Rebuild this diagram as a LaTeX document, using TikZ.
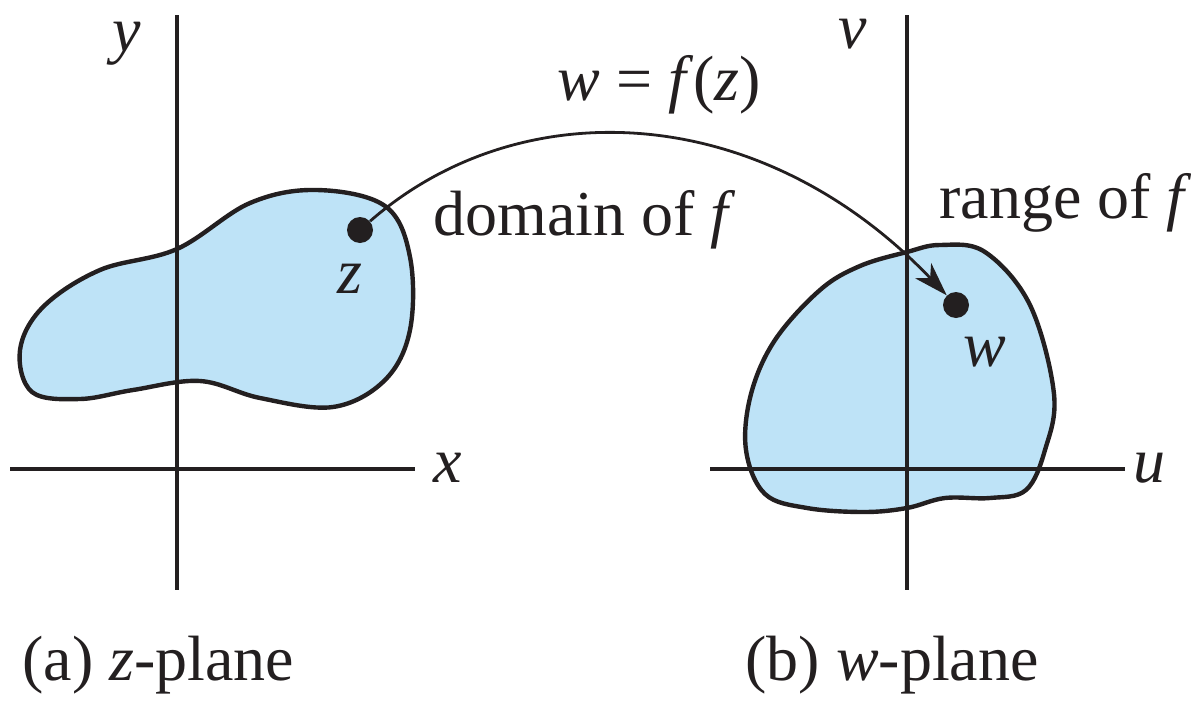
\documentclass[tikz,border=0pt]{standalone}
\usepackage{fontspec}
\setmainfont{Liberation Serif}
\definecolor{blobblue}{RGB}{190,227,247}
\definecolor{inkblack}{RGB}{35,31,32}
\usetikzlibrary{arrows.meta}

\begin{document}
\begin{tikzpicture}[
  x=0.5pt, y=-0.5pt,
  every node/.style={font=\fontsize{32}{38}\selectfont, inner sep=0pt, text=inkblack},
  axis/.style={draw=inkblack, line width=1.6pt},
  region/.style={draw=inkblack, fill=blobblue, line width=2.2pt},
  spot/.style={circle, fill=inkblack, minimum size=13pt},
  map/.style={draw=inkblack, line width=1.4pt, -{Stealth[length=17pt, width=11pt, inset=5pt]}},
]
  \useasboundingbox (0,0) rectangle (1191,702);

  % Regions
  \draw[region] plot[smooth cycle, tension=0.6] coordinates {
    (177,249) (250,203) (317,190) (385,206) (410,257) (410,330) (385,380)
    (333,407) (260,398) (200,381) (133,390) (80,399) (32,392) (20,350)
    (43,307) (100,270)};
  \draw[region] plot[smooth cycle, tension=0.6] coordinates {
    (907,252) (940,245) (985,252) (1030,305) (1054,394) (1045,450) (1026,490)
    (990,498) (945,498) (907,508) (864,512) (807,508) (765,494) (746,450)
    (751,394) (775,340) (820,290) (860,266)};

  % Axes
  \draw[axis] (177,15) -- (177,590);
  \draw[axis] (10,469) -- (415,469);
  \draw[axis] (907,15) -- (907,590);
  \draw[axis] (710,469) -- (1125,469);

  % Axis labels
  \node[anchor=base] (ylab) at (127,51) {\textit{y}};
  \node[anchor=base west] (xlab) at (433,482) {\textit{x}};
  \node[anchor=base] (vlab) at (853,48) {\textit{v}};
  \node[anchor=base west] (ulab) at (1133,482) {\textit{u}};

  % Points
  \node[spot] (zdot) at (360,230) {};
  \node[spot] (wdot) at (956,305) {};
  \node[anchor=base] (zlab) at (350,293) {\textit{z}};
  \node[anchor=base] (wlab) at (985,366) {\textit{w}};

  % Mapping
  \draw[map] (zdot) .. controls (520,90) and (760,100) .. (wdot);
  \node[anchor=base west] (maplab) at (557,100) {\textit{w} = \textit{f}(\textit{z})};
  \node[anchor=base west] (domlab) at (433,235) {domain of \textit{f}};
  \node[anchor=base west] (ranlab) at (939,218) {range of \textit{f}};

  % Captions
  \node[anchor=base west] (capa) at (22,680) {(a) \textit{z}-plane};
  \node[anchor=base west] (capb) at (745,680) {(b) \textit{w}-plane};
\end{tikzpicture}
\end{document}
